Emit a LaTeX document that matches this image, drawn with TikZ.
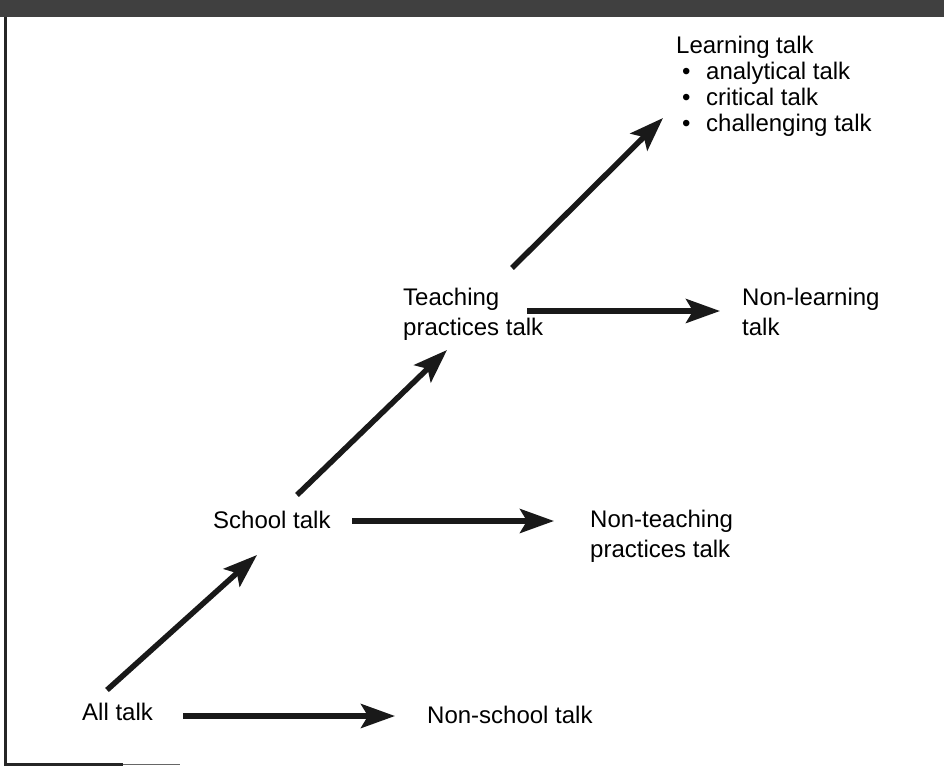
\documentclass[tikz,border=0pt]{standalone}
\usepackage{fontspec}
\setmainfont{Liberation Sans}
\usetikzlibrary{arrows.meta}
\begin{document}
\begin{tikzpicture}[x=1pt,y=-1pt,
  lbl/.style={anchor=base west,inner sep=0pt,align=left,font=\fontsize{24}{30}\selectfont},
  arr/.style={line width=5.5pt,-{Stealth[length=34pt,width=24pt,inset=7pt]},black!90}]
\useasboundingbox (0,0) rectangle (944,766);
\fill[black!75] (0,0) rectangle (944,17);
\draw[line width=3pt,black!85] (5,17) -- (5,764) -- (123,764);
\draw[line width=1.5pt,black!60] (123,764.5) -- (180,764.5);
% nodes (base = baseline of last line)
\node[lbl] (all) at (82,720) {All talk};
\node[lbl] (nonschool) at (427,723) {Non-school talk};
\node[lbl] (school) at (213,528) {School talk};
\node[lbl] (nonteach) at (590,557) {Non-teaching\\practices talk};
\node[lbl] (teach) at (403,335) {Teaching\\practices talk};
\node[lbl] (nonlearn) at (742,335) {Non-learning\\talk};
\node[lbl,font=\fontsize{24}{26}\selectfont] (learn) at (676,131) {Learning talk\\
  \hspace*{6pt}\makebox[24pt][l]{•}analytical talk\\
  \hspace*{6pt}\makebox[24pt][l]{•}critical talk\\
  \hspace*{6pt}\makebox[24pt][l]{•}challenging talk};
% arrow end points
\coordinate (a1s) at (183,716); \coordinate (a1e) at (395,716);
\coordinate (d1s) at (107,690); \coordinate (d1e) at (257,555);
\coordinate (a2s) at (352,521); \coordinate (a2e) at (554,521);
\coordinate (d2s) at (297,495); \coordinate (d2e) at (447,350);
\coordinate (a3s) at (527,311); \coordinate (a3e) at (720,311);
\coordinate (d3s) at (512,268); \coordinate (d3e) at (663,118);
\draw[arr] (a1s) -- (a1e);
\draw[arr] (d1s) -- (d1e);
\draw[arr] (a2s) -- (a2e);
\draw[arr] (d2s) -- (d2e);
\draw[arr] (a3s) -- (a3e);
\draw[arr] (d3s) -- (d3e);
\end{tikzpicture}
\end{document}
